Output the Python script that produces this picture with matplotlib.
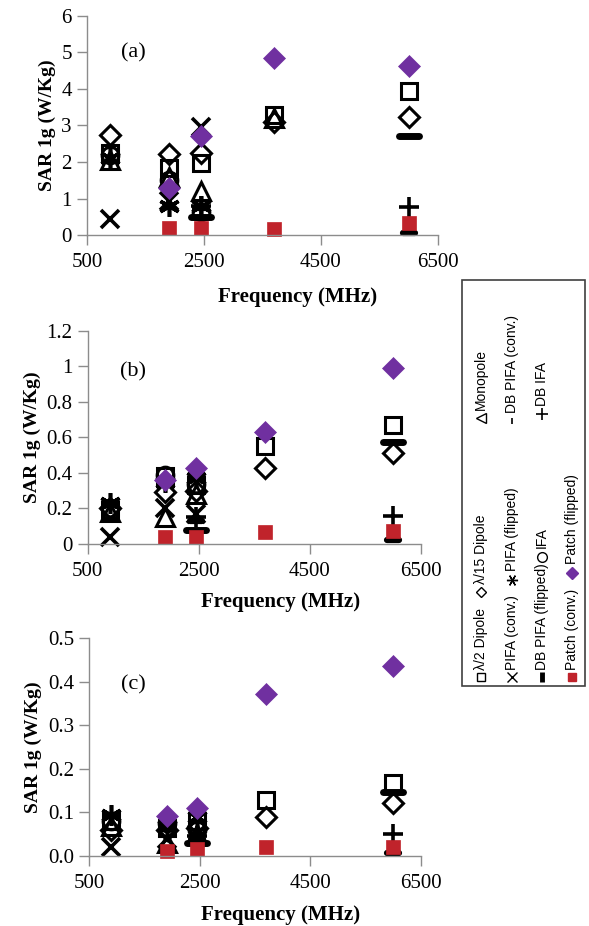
import numpy as np
import matplotlib
matplotlib.use('agg')
import matplotlib.pyplot as plt
from matplotlib.markers import MarkerStyle
from matplotlib.patches import Rectangle

plt.rcParams['font.family'] = ['Liberation Serif', 'DejaVu Serif']

# ---------------- data (SAR 1g, W/Kg) ----------------
freq = [900, 1900, 2450, 3700, 6000]
nan = np.nan
# each list: [panel a, panel b, panel c], values at freq
half_dipole = [[2.25, 1.85, 1.97, 3.30, 3.95],
               [0.19, 0.38, 0.33, 0.55, 0.67],
               [0.080, 0.065, 0.080, 0.128, 0.167]]
l15_dipole = [[2.75, 2.22, 2.25, 3.10, 3.22],
              [0.20, 0.29, 0.30, 0.43, 0.51],
              [0.060, 0.060, 0.065, 0.090, 0.121]]
monopole = [[2.05, 1.60, 1.20, 3.20, nan],
            [0.18, 0.15, 0.28, nan, nan],
            [0.070, 0.030, 0.050, nan, nan]]
pifa_conv = [[0.45, 0.95, 2.95, nan, nan],
             [0.04, 0.20, 0.17, nan, nan],
             [0.020, 0.040, 0.050, nan, nan]]
pifa_flip = [[2.10, 0.80, 0.80, nan, nan],
             [0.23, 0.35, 0.37, nan, nan],
             [0.095, 0.070, 0.090, nan, nan]]
db_pifa_conv = [[nan, nan, 0.75, nan, 0.05],
                [nan, nan, 0.13, nan, 0.025],
                [nan, nan, 0.040, nan, 0.008]]
db_pifa_flip = [[nan, nan, 0.50, nan, 2.70],
                [nan, nan, 0.08, nan, 0.575],
                [nan, nan, 0.030, nan, 0.147]]
ifa = [[2.20, 1.50, 0.65, nan, nan],
       [0.20, 0.39, 0.34, nan, nan],
       [0.080, 0.075, 0.060, nan, nan]]
db_ifa = [[nan, nan, 0.80, nan, 0.76],
          [nan, nan, 0.15, nan, 0.16],
          [nan, nan, 0.045, nan, 0.050]]
patch_conv = [[nan, 0.21, 0.21, 0.16, 0.33],
              [nan, 0.04, 0.04, 0.066, 0.075],
              [nan, 0.012, 0.015, 0.020, 0.020]]
patch_flip = [[nan, 1.28, 2.71, 4.85, 4.63],
              [nan, 0.36, 0.425, 0.63, 0.99],
              [nan, 0.092, 0.11, 0.372, 0.437]]

labels = ['λ/2 Dipole', 'λ/15 Dipole', 'Monopole', 'PIFA (conv.)', 'PIFA (flipped)',
          'DB PIFA (conv.)', 'DB PIFA (flipped)', 'IFA', 'DB IFA', 'Patch (conv.)', 'Patch (flipped)']
panel_names = ['(a)', '(b)', '(c)']
y_ticks = [[0, 1, 2, 3, 4, 5, 6],
           [0, 0.2, 0.4, 0.6, 0.8, 1, 1.2],
           [0.0, 0.1, 0.2, 0.3, 0.4, 0.5]]
y_ticklabels = [['0', '1', '2', '3', '4', '5', '6'],
                ['0', '0.2', '0.4', '0.6', '0.8', '1', '1.2'],
                ['0.0', '0.1', '0.2', '0.3', '0.4', '0.5']]
x_ticks = [500, 2500, 4500, 6500]

# ---------------- styles ----------------
RED = '#c0232b'
PURPLE = '#7030a0'
star6 = (6, 2, 0)
dash_round = MarkerStyle('_', capstyle='round')
series = [half_dipole, l15_dipole, monopole, pifa_conv, pifa_flip,
          db_pifa_conv, db_pifa_flip, ifa, db_ifa, patch_conv, patch_flip]
styles = [dict(marker='s', ms=11, mfc='none', mec='k', mew=2.2),
          dict(marker='D', ms=10, mfc='none', mec='k', mew=2.2),
          dict(marker='^', ms=13, mfc='none', mec='k', mew=2.2),
          dict(marker='x', ms=13, mec='k', mew=2.6),
          dict(marker=star6, ms=15, mec='k', mew=2.6),
          dict(marker=dash_round, ms=8, mec='k', mew=4.5),
          dict(marker=dash_round, ms=15, mec='k', mew=5),
          dict(marker='o', ms=12, mfc='none', mec='k', mew=2.2),
          dict(marker='+', ms=15, mec='k', mew=2.6),
          dict(marker='s', ms=10.5, mfc=RED, mec=RED, mew=0.5),
          dict(marker='D', ms=11, mfc=PURPLE, mec=PURPLE, mew=0.5)]

fig = plt.figure(figsize=(5.89, 9.26), dpi=100)
W, H = 589.0, 926.0
# axes boxes in pixels: left, top, right, bottom
boxes = [(87, 15.7, 438, 235.3), (87.7, 330.7, 420.7, 544), (89.3, 638.3, 420.7, 856)]
xlabel_pos = [(0.60, -62), (0.58, -58), (0.578, -59)]
letter_pos = [(133, 53), (133, 371.7), (133, 685)]

for i in range(3):
    l, t, r, b = boxes[i]
    ax = fig.add_axes([l / W, (H - b) / H, (r - l) / W, (b - t) / H])
    for s, st in zip(series, styles):
        ax.plot(freq, s[i], linestyle='none', clip_on=False, **st)
    ax.set_xlim(500, 6500)
    ax.set_ylim(y_ticks[i][0], y_ticks[i][-1])
    ax.set_xticks(x_ticks)
    ax.set_xticklabels([str(v) for v in x_ticks])
    ax.set_yticks(y_ticks[i])
    ax.set_yticklabels(y_ticklabels[i])
    for side in ['top', 'right']:
        ax.spines[side].set_visible(False)
    for side in ['left', 'bottom']:
        ax.spines[side].set_color('#8c8c8c')
        ax.spines[side].set_linewidth(1.0)
    ax.tick_params(direction='out', length=7, width=1, color='#8c8c8c', labelsize=15)
    ax.tick_params(axis='x', pad=6)
    ax.tick_params(axis='y', pad=4)
    ax.set_ylabel('SAR 1g (W/Kg)', fontsize=14, fontweight='bold')
    ax.set_xlabel('Frequency (MHz)', fontsize=15, fontweight='bold')
    fx, dy = xlabel_pos[i]
    ax.xaxis.set_label_coords(fx, dy / (b - t))
    ax.xaxis.label.set_verticalalignment('center')
    lx, ly = letter_pos[i]
    ax.text((lx - l) / (r - l), (b - ly) / (b - t), panel_names[i], fontsize=16,
            ha='center', va='center', transform=ax.transAxes)

# ---------------- rotated legend ----------------
leg = fig.add_axes([0, 0, 1, 1])
leg.set_xlim(0, W)
leg.set_ylim(H, 0)
leg.axis('off')
leg.add_patch(Rectangle((462, 280), 123, 406, fill=False, ec='#404040', lw=1.2))
leg_styles = [dict(marker='s', ms=6, mfc='none', mec='k', mew=1),
              dict(marker='D', ms=5, mfc='none', mec='k', mew=1),
              dict(marker='<', ms=7, mfc='none', mec='k', mew=1),
              dict(marker='x', ms=7, mec='k', mew=1),
              dict(marker=(6, 2, 90), ms=8, mec='k', mew=1),
              dict(marker='|', ms=5, mec='k', mew=1.2),
              dict(marker='|', ms=7, mec='k', mew=3.5),
              dict(marker='o', ms=7, mfc='none', mec='k', mew=1),
              dict(marker='+', ms=8, mec='k', mew=1.2),
              dict(marker='s', ms=6, mfc=RED, mec=RED),
              dict(marker='D', ms=6, mfc=PURPLE, mec=PURPLE)]
# (column x, marker y, text start y)
leg_pos = [(481, 677, 670), (481, 592, 584), (481, 418, 410),
           (512, 677, 670), (512, 580, 571), (512, 421, 413),
           (542, 677, 670), (542, 557, 548), (542, 414, 406),
           (572, 677, 670), (572, 573, 564)]
for lab, st, (x, ym, yt) in zip(labels, leg_styles, leg_pos):
    leg.plot([x], [ym], linestyle='none', **st)
    leg.text(x, yt, lab, rotation=90, ha='center', va='bottom', fontsize=10,
             family=['Liberation Sans', 'DejaVu Sans'])

fig.savefig('out.png', dpi=100)
